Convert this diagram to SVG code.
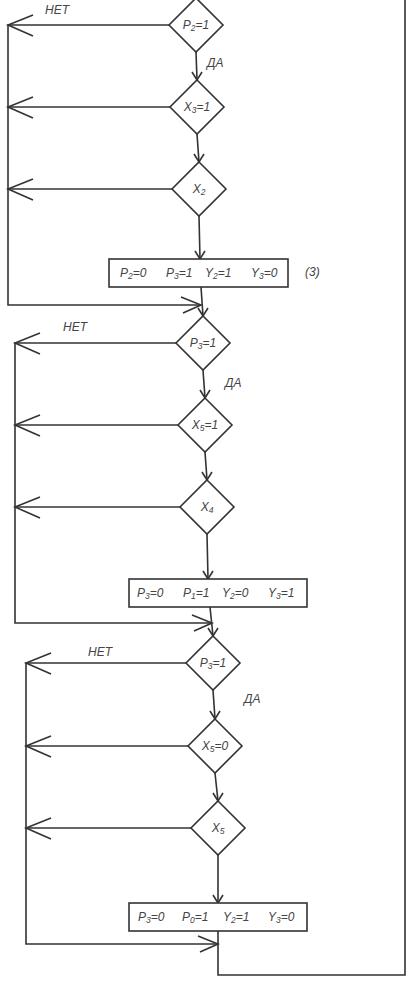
<svg xmlns="http://www.w3.org/2000/svg" width="414" height="986" viewBox="0 0 414 986">
<style>
.sh{fill:#fff;stroke:#333;stroke-width:1.6}
.ln{fill:none;stroke:#333;stroke-width:1.6}
text{font-family:"Liberation Sans",Arial,sans-serif;font-style:italic;font-size:12px;fill:#444}
.c{text-anchor:middle}
.s{font-size:8.5px}
</style>
<rect width="414" height="986" fill="#fff"/>
<g id="connectors" class="ln">
<path d="M169,25 H8 V305 H201"/>
<path d="M170,107 H8"/>
<path d="M172,189 H8"/>
<path d="M196,52 L197,80 M197,134 L199,162 M199,216 L200,259 M201,287 L203,316"/>
<path d="M33,15 L8,25 L33,36 M33,97 L8,107 L33,118 M33,179 L8,189 L33,200 M181,297 L201,305 L183,313"/>
<path d="M192,72 L197,80 L202,72 M194,154 L199,162 L204,154 M195,251 L200,259 L205,251 M198,308 L203,316 L208,308"/>
<path d="M176,343 H15 V623 H212"/>
<path d="M178,425 H15"/>
<path d="M180,507 H15"/>
<path d="M203,370 L205,398 M205,452 L207,480 M207,534 L208,579 M210,607 L213,636"/>
<path d="M40,333 L15,343 L40,354 M40,415 L15,425 L40,436 M40,497 L15,507 L40,518 M192,615 L212,623 L194,631"/>
<path d="M200,390 L205,398 L210,390 M202,472 L207,480 L212,472 M203,571 L208,579 L213,571 M208,628 L213,636 L218,628"/>
<path d="M186,663 H26 V944 H218"/>
<path d="M188,746 H26"/>
<path d="M191,828 H26"/>
<path d="M213,690 L215,719 M215,773 L218,801 M218,855 L218,903 M218,931 V975 H405 V0"/>
<path d="M51,653 L26,663 L51,674 M51,736 L26,746 L51,757 M51,818 L26,828 L51,839 M198,936 L218,944 L200,952"/>
<path d="M210,711 L215,719 L220,711 M213,793 L218,801 L223,793 M213,895 L218,903 L223,895"/>
</g>
<text x="45" y="14">НЕТ</text>
<text x="207" y="67">ДА</text>
<text x="63" y="331">НЕТ</text>
<text x="225" y="387">ДА</text>
<text x="88" y="656">НЕТ</text>
<text x="244" y="703">ДА</text>
<g id="d1"><polygon class="sh" points="196,-2 223,25 196,52 169,25"/><text class="c" x="196" y="29">P<tspan class="s" dy="2">2</tspan><tspan dy="-2">=1</tspan></text></g>
<g id="d2"><polygon class="sh" points="197,80 224,107 197,134 170,107"/><text class="c" x="197" y="111">X<tspan class="s" dy="2">3</tspan><tspan dy="-2">=1</tspan></text></g>
<g id="d3"><polygon class="sh" points="199,162 226,189 199,216 172,189"/><text class="c" x="199" y="193">X<tspan class="s" dy="2">2</tspan></text></g>
<g id="r1"><rect class="sh" x="109" y="259" width="179" height="28"/>
<text x="120" y="277">P<tspan class="s" dy="2">2</tspan><tspan dy="-2">=0</tspan></text>
<text x="166" y="277">P<tspan class="s" dy="2">3</tspan><tspan dy="-2">=1</tspan></text>
<text x="205" y="277">Y<tspan class="s" dy="2">2</tspan><tspan dy="-2">=1</tspan></text>
<text x="251" y="277">Y<tspan class="s" dy="2">3</tspan><tspan dy="-2">=0</tspan></text></g>
<text x="305" y="276">(3)</text>
<g id="d4"><polygon class="sh" points="203,316 230,343 203,370 176,343"/><text class="c" x="203" y="347">P<tspan class="s" dy="2">3</tspan><tspan dy="-2">=1</tspan></text></g>
<g id="d5"><polygon class="sh" points="205,398 232,425 205,452 178,425"/><text class="c" x="205" y="429">X<tspan class="s" dy="2">5</tspan><tspan dy="-2">=1</tspan></text></g>
<g id="d6"><polygon class="sh" points="207,480 234,507 207,534 180,507"/><text class="c" x="207" y="511">X<tspan class="s" dy="2">4</tspan></text></g>
<g id="r2"><rect class="sh" x="129" y="579" width="178" height="28"/>
<text x="137" y="597">P<tspan class="s" dy="2">3</tspan><tspan dy="-2">=0</tspan></text>
<text x="183" y="597">P<tspan class="s" dy="2">1</tspan><tspan dy="-2">=1</tspan></text>
<text x="222" y="597">Y<tspan class="s" dy="2">2</tspan><tspan dy="-2">=0</tspan></text>
<text x="268" y="597">Y<tspan class="s" dy="2">3</tspan><tspan dy="-2">=1</tspan></text></g>
<g id="d7"><polygon class="sh" points="213,636 240,663 213,690 186,663"/><text class="c" x="213" y="667">P<tspan class="s" dy="2">3</tspan><tspan dy="-2">=1</tspan></text></g>
<g id="d8"><polygon class="sh" points="215,719 242,746 215,773 188,746"/><text class="c" x="215" y="750">X<tspan class="s" dy="2">5</tspan><tspan dy="-2">=0</tspan></text></g>
<g id="d9"><polygon class="sh" points="218,801 245,828 218,855 191,828"/><text class="c" x="218" y="832">X<tspan class="s" dy="2">5</tspan></text></g>
<g id="r3"><rect class="sh" x="129" y="903" width="178" height="28"/>
<text x="138" y="921">P<tspan class="s" dy="2">3</tspan><tspan dy="-2">=0</tspan></text>
<text x="182" y="921">P<tspan class="s" dy="2">0</tspan><tspan dy="-2">=1</tspan></text>
<text x="223" y="921">Y<tspan class="s" dy="2">2</tspan><tspan dy="-2">=1</tspan></text>
<text x="268" y="921">Y<tspan class="s" dy="2">3</tspan><tspan dy="-2">=0</tspan></text></g>
</svg>
